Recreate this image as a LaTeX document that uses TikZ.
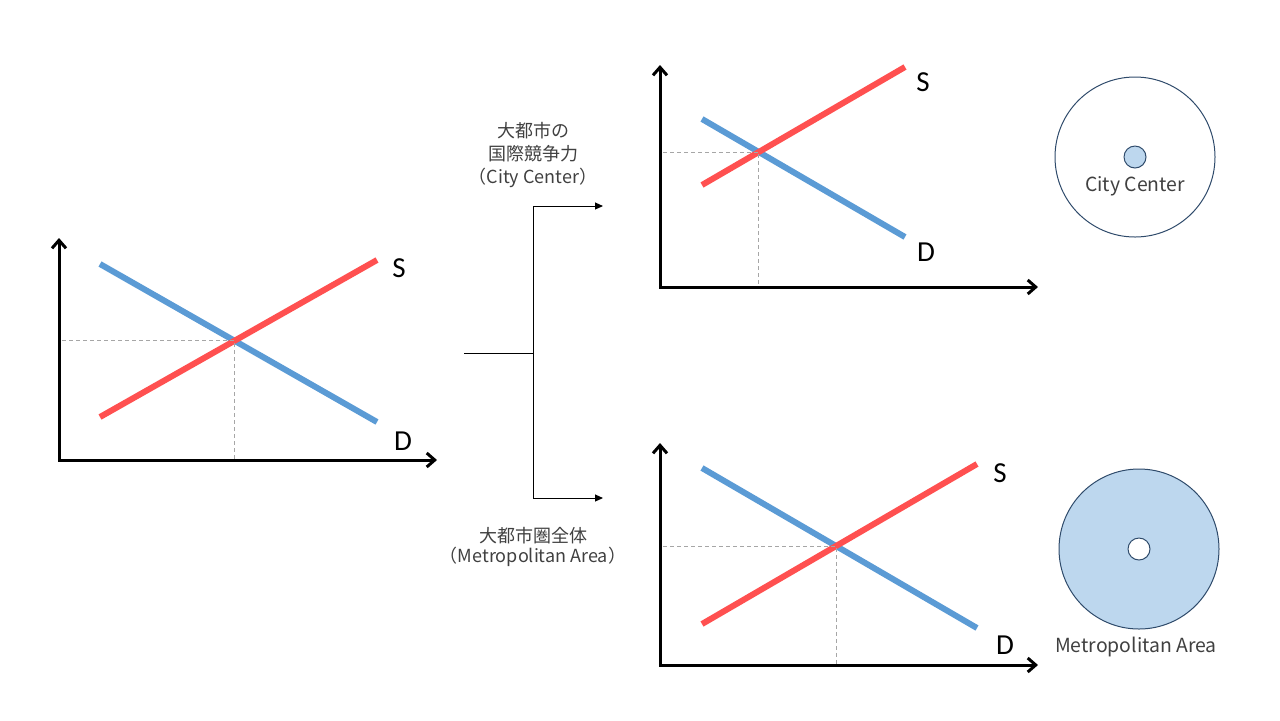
\documentclass[tikz,border=0pt]{standalone}
\usepackage{fontspec}
\setmainfont{Noto Sans CJK JP}
\newfontfamily\curvefont{Carlito}
\usetikzlibrary{arrows.meta,positioning,calc}
\definecolor{supply}{HTML}{FF5050}
\definecolor{demand}{HTML}{5B9BD5}
\definecolor{guide}{HTML}{A6A6A6}
\definecolor{ringline}{HTML}{2F4B6B}
\definecolor{ringfill}{HTML}{BDD7EE}
\definecolor{caption}{HTML}{404040}

\begin{document}
\begin{tikzpicture}[x=0.5pt, y=-0.5pt,
  font=\fontsize{9}{11.5}\selectfont, text=caption,
  axisline/.style={{Straight Barb[length=4pt,width=7pt]}-{Straight Barb[length=4pt,width=7pt]}, line width=1.5pt},
  sup/.style={draw=supply, line width=3pt},
  dem/.style={draw=demand, line width=3pt},
  proj/.style={draw=guide, line width=0.5pt, dash pattern=on 2pt off 1.5pt},
  crv/.style={font=\curvefont\fontsize{14.5}{16}\selectfont, text=black, inner sep=0pt},
  brk/.style={line width=0.5pt},
  fork/.style={-{Triangle[length=4pt,width=3.5pt]}, line width=0.5pt},
  ring/.style={circle, draw=ringline, line width=0.5pt, minimum size=80pt, inner sep=0pt},
  hub/.style={circle, draw=ringline, line width=0.5pt, minimum size=11pt, inner sep=0pt},
  ringlbl/.style={font=\fontsize{9.7}{11}\selectfont}]
\useasboundingbox (0,0) rectangle (1280,720);

% left chart
\coordinate (lo) at (59,460);
\draw[axisline] (59,238) -- (lo) -- (437,460);
\draw[dem] (100,264) coordinate (ld1) -- (377,422) coordinate (ld2);
\draw[sup] (100,417) coordinate (ls1) -- (377,260) coordinate (ls2);
\coordinate (leq) at (intersection of ld1--ld2 and ls1--ls2);
\draw[proj] ($(lo |- leq)+(3,0)$) -- (leq) -- (leq |- lo);
\node[crv] (lS) at (399,268) {S};
\node[crv] (lD) at (403,441) {D};

% split
\coordinate (stem) at (464,353);
\coordinate (split) at (533,353);
\coordinate (ttip) at (603,206);
\coordinate (btip) at (603,498);
\draw[brk] (stem) -- (split);
\draw[fork] (split) |- (ttip);
\draw[fork] (split) |- (btip);
\node[align=center] (cclbl) at (533,155) {大都市の\\国際競争力\\（City Center）};
\node[align=center, font=\fontsize{9}{10}\selectfont] (malbl) at (533,547) {大都市圏全体\\（Metropolitan Area）};

% city center chart
\coordinate (co) at (660,287);
\draw[axisline] (660,65) -- (co) -- (1038,287);
\draw[dem] (702,119) coordinate (cd1) -- (905,237) coordinate (cd2);
\draw[sup] (702,185) coordinate (cs1) -- (905,67) coordinate (cs2);
\coordinate (ceq) at (intersection of cd1--cd2 and cs1--cs2);
\draw[proj] ($(co |- ceq)+(3,0)$) -- (ceq) -- (ceq |- co);
\node[crv] (cS) at (923,82) {S};
\node[crv] (cD) at (926,252) {D};

% metropolitan chart
\coordinate (mo) at (660,665);
\draw[axisline] (660,443) -- (mo) -- (1038,665);
\draw[dem] (702,468) coordinate (md1) -- (977,628) coordinate (md2);
\draw[sup] (702,624) coordinate (ms1) -- (977,464) coordinate (ms2);
\coordinate (meq) at (intersection of md1--md2 and ms1--ms2);
\draw[proj] ($(mo |- meq)+(3,0)$) -- (meq) -- (meq |- mo);
\node[crv] (mS) at (1000,473) {S};
\node[crv] (mD) at (1005,645) {D};

% rings
\node[ring] (cring) at (1135,157) {};
\node[hub, fill=ringfill] (chub) at (cring.center) {};
\node[ringlbl] (clbl) at (1135,186) {City Center};
\node[ring, fill=ringfill] (mring) at (1139,549) {};
\node[hub, fill=white] (mhub) at (mring.center) {};
\node[ringlbl] (mlbl) at (1136,647) {Metropolitan Area};
\end{tikzpicture}
\end{document}
